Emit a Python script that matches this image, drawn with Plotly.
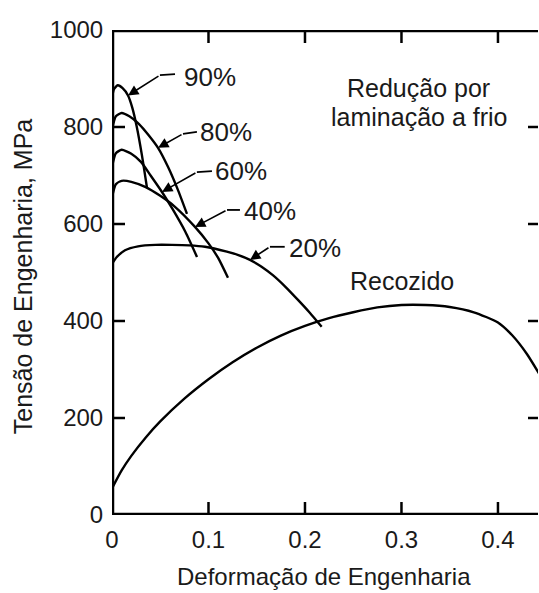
import numpy as np
import plotly.graph_objects as go

# Engineering strain / engineering stress (MPa) for each cold-rolling reduction
strain_90 = [0, 0.002, 0.006, 0.011, 0.0166, 0.021, 0.0256, 0.031, 0.0363]
stress_90 = [860, 878, 886, 880, 865, 840, 801, 742, 674]

strain_80 = [0, 0.004, 0.01, 0.018, 0.028, 0.038, 0.0477, 0.058, 0.068, 0.0777]
stress_80 = [795, 822, 829, 822, 806, 783, 757, 718, 672, 621]

strain_60 = [0, 0.004, 0.01, 0.02, 0.03, 0.04, 0.0518, 0.063, 0.076, 0.0881]
stress_60 = [718, 746, 753, 745, 728, 700, 666, 630, 584, 532]

strain_40 = [0, 0.004, 0.01, 0.02, 0.035, 0.05, 0.065, 0.086, 0.1, 0.11, 0.1202]
stress_40 = [655, 682, 689, 687, 676, 658, 636, 594, 560, 530, 489]

strain_20 = [0, 0.005, 0.0135, 0.027, 0.045, 0.062, 0.08, 0.0964, 0.119, 0.131,
             0.143, 0.155, 0.167, 0.18, 0.193, 0.205, 0.2173]
stress_20 = [518, 532, 546, 554, 557, 557, 556, 553, 543, 536,
             526, 512, 494, 470, 443, 417, 388]

# Annealed material
strain_an = [0, 0.01, 0.02, 0.035, 0.05, 0.075, 0.1, 0.125, 0.15, 0.175, 0.2,
             0.225, 0.25, 0.275, 0.3, 0.325, 0.35, 0.375, 0.4, 0.415, 0.43, 0.4425]
stress_an = [55, 92, 122, 160, 193, 240, 280, 315, 345, 370, 390,
             406, 418, 428, 433, 433, 429, 418, 397, 370, 332, 292]

x_ticks = [0, 0.1, 0.2, 0.3, 0.4]
x_tick_text = ["0", "0.1", "0.2", "0.3", "0.4"]
y_ticks = [0, 200, 400, 600, 800, 1000]
y_tick_text = ["0", "200", "400", "600", "800", "1000"]

series = [
    ("90%", strain_90, stress_90),
    ("80%", strain_80, stress_80),
    ("60%", strain_60, stress_60),
    ("40%", strain_40, stress_40),
    ("20%", strain_20, stress_20),
    ("Recozido", strain_an, stress_an),
]

FONT = "Liberation Sans, Arial, sans-serif"
INK = "#1a1a1a"
WIDTH, HEIGHT = 539, 593
MARGIN = dict(l=112, r=1, t=30, b=78)
PLOT_W = WIDTH - MARGIN["l"] - MARGIN["r"]
PLOT_H = HEIGHT - MARGIN["t"] - MARGIN["b"]
X_RANGE = [0, 0.4415]
Y_RANGE = [0, 1000]

fig = go.Figure()
for name, xs, ys in series:
    fig.add_trace(go.Scatter(
        x=xs, y=ys, mode="lines", name=name,
        line=dict(color="black", width=2.4, shape="spline", smoothing=0.6),
        hoverinfo="skip", showlegend=False,
    ))

# plot frame (left, bottom, top) drawn as a line trace along the axis limits
x0, x1 = X_RANGE
y0, y1 = Y_RANGE
fig.add_trace(go.Scatter(
    x=[x0, x0, None, x0, x1, None, x0, x1],
    y=[y1, y0, None, y0, y0, None, y1, y1],
    mode="lines", line=dict(color="black", width=4.5),
    cliponaxis=False, hoverinfo="skip", showlegend=False,
))

# inward tick marks on all four sides at the tick values
dy = 13 / PLOT_H * (y1 - y0)
dx = 13 / PLOT_W * (x1 - x0)
dx_r = 10 / PLOT_W * (x1 - x0)
tx, ty = [], []
for xv in x_ticks[1:]:
    tx += [xv, xv, None, xv, xv, None]
    ty += [y0, y0 + dy, None, y1, y1 - dy, None]
for yv in y_ticks[1:-1]:
    tx += [x0, x0 + dx, None, x1 - dx_r, x1, None]
    ty += [yv, yv, None, yv, yv, None]
fig.add_trace(go.Scatter(
    x=tx, y=ty, mode="lines", line=dict(color="black", width=2.5),
    cliponaxis=False, hoverinfo="skip", showlegend=False,
))

# label callouts: (label, curve, strain at arrow tip, bend point, leader start, text anchor)
callouts = [
    ("90%", strain_90, stress_90, 0.0166, (0.0497, 907), (0.0653, 909), (0.0725, 903)),
    ("80%", strain_80, stress_80, 0.0477, (0.0736, 786), (0.0880, 790), (0.0891, 790)),
    ("60%", strain_60, stress_60, 0.0518, (0.0880, 707), (0.1036, 709), (0.1047, 709)),
    ("40%", strain_40, stress_40, 0.0860, (0.1192, 629), (0.1326, 629), (0.1347, 627)),
    ("20%", strain_20, stress_20, 0.1430, (0.1637, 553), (0.1790, 553), (0.1813, 551)),
]

annotations = []
shapes = []
for label, xs, ys, tip_x, bend, start, txt in callouts:
    tip_y = float(np.interp(tip_x, xs, ys))
    annotations.append(dict(
        x=tip_x, y=tip_y, ax=bend[0], ay=bend[1], axref="x", ayref="y",
        xref="x", yref="y", text="", showarrow=True,
        arrowhead=2, arrowsize=1.3, arrowwidth=1.6, arrowcolor="black", standoff=0,
    ))
    shapes.append(dict(type="line", xref="x", yref="y",
                       x0=bend[0], y0=bend[1], x1=start[0], y1=start[1],
                       line=dict(color="black", width=1.8)))
    annotations.append(dict(
        x=txt[0], y=txt[1], xref="x", yref="y", text=label, showarrow=False,
        xanchor="left", yanchor="middle", font=dict(family=FONT, size=26, color=INK),
    ))

annotations += [
    dict(x=0.318, y=880, xref="x", yref="y", text="Redução por", showarrow=False,
         xanchor="center", yanchor="middle", font=dict(family=FONT, size=25, color=INK)),
    dict(x=0.318, y=821, xref="x", yref="y", text="laminação a frio", showarrow=False,
         xanchor="center", yanchor="middle", font=dict(family=FONT, size=25, color=INK)),
    dict(x=0.3005, y=482, xref="x", yref="y", text="Recozido", showarrow=False,
         xanchor="center", yanchor="middle", font=dict(family=FONT, size=25, color=INK)),
    dict(x=-0.2084, y=0.4928, xref="paper", yref="paper", text="Tensão de Engenharia, MPa",
         textangle=-90, showarrow=False, xanchor="center", yanchor="middle",
         font=dict(family=FONT, size=25, color=INK)),
    dict(x=0.4965, y=-0.1278, xref="paper", yref="paper", text="Deformação de Engenharia",
         showarrow=False, xanchor="center", yanchor="middle",
         font=dict(family=FONT, size=24, color=INK)),
]

axis_common = dict(
    showgrid=False, zeroline=False, showline=True, linecolor="rgba(0,0,0,0)", linewidth=4,
    ticks="inside", ticklen=13, tickwidth=2.5, tickcolor="rgba(0,0,0,0)",
    tickfont=dict(family=FONT, size=24, color=INK),
)

fig.update_layout(
    width=WIDTH, height=HEIGHT,
    margin=MARGIN,
    paper_bgcolor="white", plot_bgcolor="white",
    showlegend=False,
    annotations=annotations, shapes=shapes,
    xaxis=dict(range=X_RANGE, tickmode="array", tickvals=x_ticks,
               ticktext=x_tick_text, **axis_common),
    yaxis=dict(range=Y_RANGE, tickmode="array", tickvals=y_ticks,
               ticktext=y_tick_text, **axis_common),
)

fig.write_html("out.html")
